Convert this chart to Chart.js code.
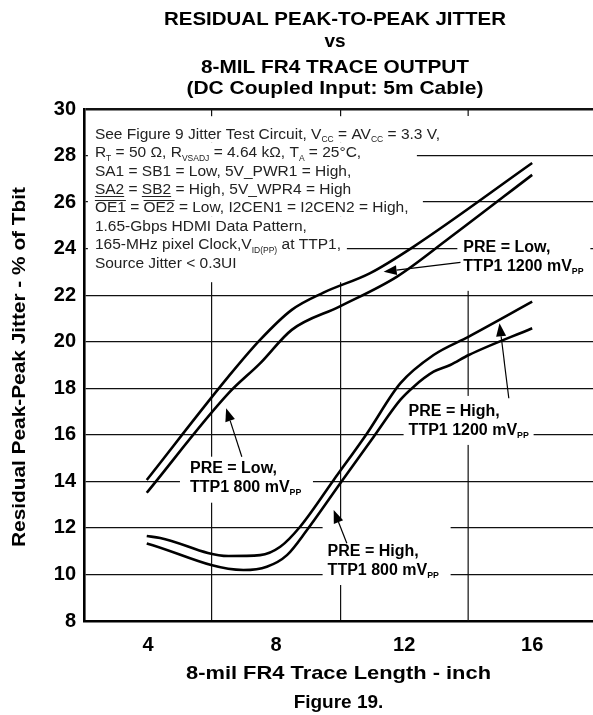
<!DOCTYPE html>
<html>
<head>
<meta charset="utf-8">
<script src="https://cdn.jsdelivr.net/npm/chart.js@4.4.1/dist/chart.umd.min.js"></script>
<style>
    html, body { margin: 0; padding: 0; background: #fff; }
    canvas { display: block; }
</style>
</head>
<body>
<canvas id="jitterChart" width="593" height="715"></canvas>
<script>
const traceLengthTicks = [4, 8, 12, 16];
const jitterTicks = [8, 10, 12, 14, 16, 18, 20, 22, 24, 26, 28, 30];

// PRE = Low, TTP1 1200 mVpp
const preLow1200X = [3.96, 6.51, 7.50, 8.49, 9.48, 10.94, 12.30, 16.00];
const preLow1200Y = [14.06, 18.50, 20.08, 21.37, 22.11, 22.95, 24.09, 27.68];
// PRE = Low, TTP1 800 mVpp
const preLow800X = [3.96, 6.51, 7.50, 8.49, 9.98, 11.78, 13.34, 16.00];
const preLow800Y = [13.51, 17.78, 19.07, 20.51, 21.51, 22.80, 24.38, 27.17];
// PRE = High, TTP1 1200 mVpp
const preHigh1200X = [3.96, 4.38, 6.51, 7.50, 8.13, 8.75, 9.80, 10.84, 11.88, 12.92, 14.02, 16.00];
const preHigh1200Y = [11.65, 11.57, 10.79, 10.83, 11.19, 12.05, 14.06, 16.06, 18.21, 19.43, 20.22, 21.72];
// PRE = High, TTP1 800 mVpp
const preHigh800X = [3.96, 6.98, 7.71, 8.34, 8.96, 10.00, 11.05, 11.88, 12.30, 12.92, 13.44, 14.02, 16.00];
const preHigh800Y = [11.33, 10.19, 10.33, 10.83, 11.90, 13.91, 15.92, 17.50, 18.07, 18.71, 19.00, 19.43, 20.58];

const titleLines = ["RESIDUAL PEAK-TO-PEAK JITTER", "vs", "8-MIL FR4 TRACE OUTPUT", "(DC Coupled Input: 5m Cable)"];
const xTitle = "8-mil FR4 Trace Length - inch";
const yTitle = "Residual Peak-Peak Jitter - % of Tbit";
const caption = "Figure 19.";

// _{} subscript, !{} overline, #{} underline
const conditionLines = [
    "See Figure 9 Jitter Test Circuit, V_{CC} = AV_{CC} = 3.3 V,",
    "R_{T} = 50 \u03A9, R_{VSADJ} = 4.64 k\u03A9, T_{A} = 25\u00B0C,",
    "SA1 = SB1 = Low, 5V_PWR1 = High,",
    "#{SA2} = #{SB2} = High, 5V_WPR4 = High",
    "!{OE1} = !{OE2} = Low, I2CEN1 = I2CEN2 = High,",
    "1.65-Gbps HDMI Data Pattern,",
    "165-MHz pixel Clock,V_{ID(PP)} at TTP1,",
    "Source Jitter < 0.3UI"
];

const calloutLines = [
    ["PRE = Low,", "TTP1 1200 mV_{PP}"],
    ["PRE = Low,", "TTP1 800 mV_{PP}"],
    ["PRE = High,", "TTP1 1200 mV_{PP}"],
    ["PRE = High,", "TTP1 800 mV_{PP}"]
];

// where the texts sit (data units) and how much grid they blank out (px)
const conditionAnchor = { x: 2.34, y: 28.96 };
const conditionMasks = [[-7, -17, 356, 9], [-7, 9, 322, 64], [-7, 64, 328, 83], [-7, 83, 252, 149]];
const calloutPlacement = [
    { x: 13.85, y: 24.12, mask: [-6, -10, 127, 45], from: [13.76, 23.41], to: [11.36, 23.01] },
    { x: 5.31, y: 14.63, mask: [-10, -10, 123, 36], from: [6.93, 15.06], to: [6.44, 17.14] },
    { x: 12.14, y: 17.07, mask: [-5, -14, 125, 35], from: [15.27, 17.57], to: [14.98, 20.79] },
    { x: 9.61, y: 11.05, mask: [-5, -30, 123, 35], from: [10.21, 11.34], to: [9.80, 12.77] }
];

const FONT = '"Liberation Sans", Arial, Helvetica, sans-serif';

function toPoints(xs, ys) {
    return xs.map((x, i) => ({ x: x, y: ys[i] }));
}

function parseRich(str) {
    const parts = [];
    const re = /([_!#])\{([^}]*)\}/g;
    let last = 0;
    let m;
    while ((m = re.exec(str)) !== null) {
        if (m.index > last) parts.push({ text: str.slice(last, m.index), kind: "" });
        parts.push({ text: m[2], kind: m[1] });
        last = re.lastIndex;
    }
    if (last < str.length) parts.push({ text: str.slice(last), kind: "" });
    return parts;
}

function drawRich(ctx, str, x, baseline, size, weight) {
    let cx = x;
    parseRich(str).forEach(part => {
        const small = part.kind === "_";
        const fs = small ? size * 0.55 : size;
        ctx.font = `${weight} ${fs}px ${FONT}`;
        const w = ctx.measureText(part.text).width;
        ctx.fillText(part.text, cx, small ? baseline + size * 0.22 : baseline);
        if (part.kind === "!" || part.kind === "#") {
            const ly = part.kind === "!" ? baseline - size * 0.8 : baseline + 2;
            ctx.fillRect(cx, ly, w, 1);
        }
        cx += w;
    });
}

function drawStretched(ctx, text, cx, baseline, size, targetWidth) {
    ctx.font = `bold ${size}px ${FONT}`;
    const w = ctx.measureText(text).width;
    const sx = targetWidth ? targetWidth / w : 1;
    ctx.save();
    ctx.translate(cx, baseline);
    ctx.scale(sx, 1);
    ctx.textAlign = "center";
    ctx.fillText(text, 0, 0);
    ctx.restore();
}

function drawArrow(ctx, x0, y0, x1, y1) {
    const a = Math.atan2(y1 - y0, x1 - x0);
    const head = 13;
    const half = 5;
    const bx = x1 - head * Math.cos(a);
    const by = y1 - head * Math.sin(a);
    ctx.beginPath();
    ctx.moveTo(x0, y0);
    ctx.lineTo(bx, by);
    ctx.stroke();
    ctx.beginPath();
    ctx.moveTo(x1, y1);
    ctx.lineTo(bx + half * Math.sin(a), by - half * Math.cos(a));
    ctx.lineTo(bx - half * Math.sin(a), by + half * Math.cos(a));
    ctx.closePath();
    ctx.fill();
}

const annotationPlugin = {
    id: "annotations",
    beforeDatasetsDraw(chart) {
        const ctx = chart.ctx;
        const xs = chart.scales.x;
        const ys = chart.scales.y;

        // x = 14 grid line has a gap under the note block
        const gx = xs.getPixelForValue(14);
        ctx.save();
        ctx.strokeStyle = "#111";
        ctx.lineWidth = 1.2;
        ctx.beginPath();
        ctx.moveTo(gx, ys.getPixelForValue(30));
        ctx.lineTo(gx, ys.getPixelForValue(29.7));
        ctx.moveTo(gx, ys.getPixelForValue(24.5));
        ctx.lineTo(gx, ys.getPixelForValue(8));
        ctx.stroke();

        // white boxes behind texts
        ctx.fillStyle = "#fff";
        const ax = xs.getPixelForValue(conditionAnchor.x);
        const ay = ys.getPixelForValue(conditionAnchor.y);
        conditionMasks.forEach(m => ctx.fillRect(ax + m[0], ay + m[1], m[2] - m[0], m[3] - m[1]));
        calloutPlacement.forEach(p => {
            const px = xs.getPixelForValue(p.x);
            const py = ys.getPixelForValue(p.y);
            ctx.fillRect(px + p.mask[0], py + p.mask[1], p.mask[2] - p.mask[0], p.mask[3] - p.mask[1]);
        });
        ctx.restore();
    },
    afterDatasetsDraw(chart) {
        const ctx = chart.ctx;
        const xs = chart.scales.x;
        const ys = chart.scales.y;
        ctx.save();
        ctx.textAlign = "left";
        ctx.textBaseline = "alphabetic";

        // test condition notes
        ctx.fillStyle = "#222";
        const ax = xs.getPixelForValue(conditionAnchor.x);
        const ay = ys.getPixelForValue(conditionAnchor.y);
        conditionLines.forEach((line, i) => {
            drawRich(ctx, line, ax, ay + i * 18.4 + 5.6, 15.5, "normal");
        });

        // curve callouts
        ctx.fillStyle = "#000";
        ctx.strokeStyle = "#000";
        ctx.lineWidth = 1.2;
        calloutPlacement.forEach((p, i) => {
            const px = xs.getPixelForValue(p.x);
            const py = ys.getPixelForValue(p.y);
            calloutLines[i].forEach((line, j) => {
                drawRich(ctx, line, px, py + j * 19 + 5.8, 16, "bold");
            });
            drawArrow(ctx,
                xs.getPixelForValue(p.from[0]), ys.getPixelForValue(p.from[1]),
                xs.getPixelForValue(p.to[0]), ys.getPixelForValue(p.to[1]));
        });
        ctx.restore();
    },
    afterDraw(chart) {
        const ctx = chart.ctx;
        const area = chart.chartArea;
        ctx.save();
        ctx.fillStyle = "#000";
        ctx.textBaseline = "alphabetic";

        const baselines = [25, 46.7, 72.7, 94.3];
        const widths = [342, 0, 268, 297];
        titleLines.forEach((line, i) => drawStretched(ctx, line, 335, baselines[i], 19, widths[i]));

        const midX = (area.left + area.right) / 2;
        drawStretched(ctx, xTitle, midX, 678.5, 19, 305);
        drawStretched(ctx, caption, midX, 708, 19, 0);

        ctx.translate(18, (area.top + area.bottom) / 2 + 2);
        ctx.rotate(-Math.PI / 2);
        drawStretched(ctx, yTitle, 0, 7, 19, 360);
        ctx.restore();
    }
};

const lineStyle = {
    borderColor: "#000",
    borderWidth: 2.6,
    pointRadius: 0,
    fill: false,
    cubicInterpolationMode: "monotone"
};

const ctx = document.getElementById("jitterChart").getContext("2d");
new Chart(ctx, {
    type: "line",
    data: {
        datasets: [
            { label: "PRE = Low, TTP1 1200 mVpp", data: toPoints(preLow1200X, preLow1200Y), ...lineStyle },
            { label: "PRE = Low, TTP1 800 mVpp", data: toPoints(preLow800X, preLow800Y), ...lineStyle },
            { label: "PRE = High, TTP1 1200 mVpp", data: toPoints(preHigh1200X, preHigh1200Y), ...lineStyle },
            { label: "PRE = High, TTP1 800 mVpp", data: toPoints(preHigh800X, preHigh800Y), ...lineStyle }
        ]
    },
    options: {
        responsive: false,
        animation: false,
        layout: { padding: { top: 109, left: 0, right: 0, bottom: 0 } },
        plugins: {
            legend: { display: false },
            title: { display: false },
            tooltip: { enabled: false }
        },
        scales: {
            x: {
                type: "linear",
                min: 2,
                max: 17.9,
                border: { display: true, color: "#000", width: 2.6 },
                grid: {
                    drawTicks: false,
                    color: c => (c.tick && (c.tick.value === 6 || c.tick.value === 10)) ? "#111" : "rgba(0,0,0,0)",
                    lineWidth: 1.2
                },
                ticks: {
                    stepSize: 2,
                    includeBounds: false,
                    autoSkip: false,
                    maxRotation: 0,
                    padding: 12,
                    color: "#000",
                    font: { family: FONT, size: 20, weight: "bold" },
                    callback: v => traceLengthTicks.includes(v) ? String(v) : ""
                },
                afterFit(scale) { scale.height = 94; }
            },
            y: {
                min: jitterTicks[0],
                max: jitterTicks[jitterTicks.length - 1],
                border: { display: true, color: "#000", width: 2.6 },
                grid: {
                    drawTicks: false,
                    color: "#111",
                    lineWidth: c => (c.tick && c.tick.value === 30) ? 2.6 : 1.2
                },
                ticks: {
                    stepSize: 2,
                    padding: 8,
                    color: "#000",
                    font: { family: FONT, size: 20, weight: "bold" },
                    callback: v => jitterTicks.includes(v) ? String(v) : ""
                },
                afterFit(scale) { scale.width = 84; }
            }
        }
    },
    plugins: [annotationPlugin]
});
</script>
</body>
</html>
